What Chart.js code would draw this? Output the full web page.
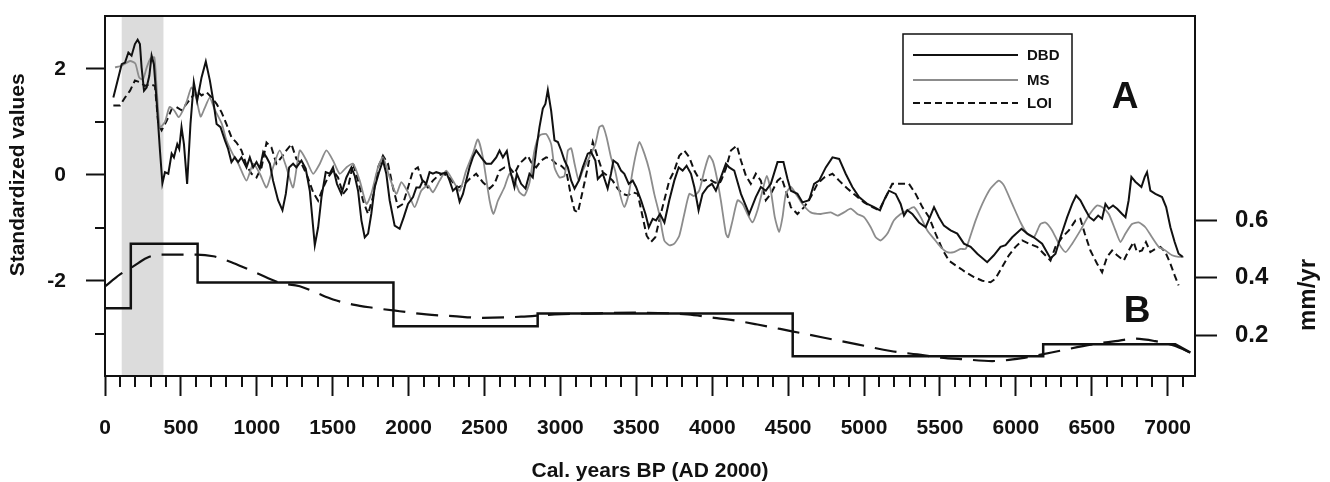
<!DOCTYPE html>
<html><head><meta charset="utf-8">
<script src="https://cdn.jsdelivr.net/npm/chart.js@4.4.1/dist/chart.umd.min.js"></script>
<style>html,body{margin:0;padding:0;background:#fff;}#wrap{width:1330px;height:482px;}</style>
</head><body><div id="wrap"><canvas id="c" width="1330" height="482"></canvas></div>
<script>
// ---------- data ----------
const dbdYears = [55,110,132,154,175,197,215,230,241,257,274,292,307,322,340,362,378,395,417,439,454,476,489,504,520,541,563,585,607,636,664,691,713,735,761,790,811,833,855,877,899,932,954,976,998,1020,1042,1064,1086,1107,1140,1169,1191,1213,1239,1261,1294,1322,1349,1382,1404,1426,1454,1480,1502,1528,1557,1590,1623,1645,1667,1689,1711,1733,1754,1776,1805,1831,1853,1875,1908,1941,1968,1996,2029,2051,2073,2094,2116,2138,2160,2182,2215,2248,2270,2292,2314,2336,2358,2379,2401,2423,2445,2478,2511,2544,2577,2599,2621,2647,2669,2697,2713,2741,2770,2796,2818,2840,2862,2884,2901,2917,2939,2961,2983,3005,3027,3049,3071,3093,3121,3147,3180,3202,3230,3246,3279,3311,3333,3349,3377,3399,3421,3450,3476,3498,3531,3560,3582,3608,3630,3656,3685,3717,3750,3779,3805,3831,3860,3882,3910,3936,3969,3998,4024,4057,4090,4112,4145,4189,4243,4287,4320,4353,4386,4430,4469,4496,4518,4561,4594,4638,4671,4704,4748,4792,4836,4879,4923,4967,5022,5066,5105,5132,5164,5208,5241,5263,5285,5318,5362,5406,5434,5461,5493,5526,5570,5614,5658,5702,5746,5811,5855,5899,5932,5976,6037,6075,6118,6173,6228,6261,6294,6338,6371,6397,6425,6454,6485,6513,6542,6568,6590,6612,6640,6667,6700,6722,6743,6761,6787,6827,6849,6864,6886,6919,6963,6990,7018,7046,7072,7099];
const dbdValues = [1.46,2.09,2.12,2.31,2.25,2.47,2.55,2.47,2.03,1.59,1.65,1.87,2.25,2.09,1.40,0.46,-0.16,0.05,0.02,0.40,0.33,0.58,0.49,0.90,0.58,-0.17,0.96,1.75,1.40,1.84,2.14,1.78,1.40,0.96,0.90,0.65,0.49,0.24,0.33,0.24,0.33,0.14,0.33,0.14,0.24,0.12,0.43,0.33,0.21,-0.11,-0.48,-0.67,-0.36,0.14,0.21,0.14,0.27,0.12,-0.30,-1.33,-0.99,-0.42,0.05,0.02,0.14,-0.17,-0.36,-0.05,0.14,-0.02,-0.30,-0.86,-1.18,-1.11,-0.74,-0.24,0.05,0.27,0.02,-0.48,-0.96,-1.02,-0.80,-0.55,-0.42,-0.24,-0.24,-0.11,-0.17,0.05,0.02,0.05,0.02,0.04,-0.11,-0.30,-0.24,-0.51,-0.36,-0.11,0.14,0.33,0.46,0.33,0.21,0.21,0.33,0.46,0.33,0.45,0.08,-0.23,0.02,-0.17,-0.26,0.02,-0.05,0.46,0.90,1.25,1.34,1.60,1.21,0.65,0.62,0.46,0.27,0.14,-0.11,-0.26,-0.11,0.14,0.40,0.43,0.27,-0.08,0.02,-0.26,0.02,0.27,0.21,0.08,0.02,-0.17,-0.11,-0.23,-0.48,-0.74,-0.99,-0.83,-0.86,-0.74,-0.90,-0.48,-0.11,0.14,0.08,0.17,0.02,-0.23,-0.67,-0.36,-0.23,-0.17,-0.30,-0.05,0.21,0.14,0.08,-0.36,-0.74,-0.42,-0.23,-0.30,-0.17,0.24,0.24,-0.08,-0.30,-0.36,-0.52,-0.48,-0.17,-0.11,0.14,0.33,0.30,0.02,-0.23,-0.42,-0.55,-0.61,-0.67,-0.48,-0.30,-0.36,-0.55,-0.77,-0.67,-0.74,-0.90,-0.99,-0.80,-0.61,-0.80,-0.96,-1.05,-1.11,-1.30,-1.36,-1.49,-1.65,-1.52,-1.36,-1.33,-1.18,-1.02,-1.11,-1.18,-1.30,-1.58,-1.49,-1.18,-0.80,-0.55,-0.39,-0.48,-0.64,-0.80,-0.86,-0.77,-0.83,-0.55,-0.64,-0.58,-0.64,-0.74,-0.80,-0.48,-0.04,-0.13,-0.23,-0.04,0.05,-0.30,-0.36,-0.42,-0.61,-0.99,-1.27,-1.49,-1.55];

const msYears = [66,110,165,200,225,250,275,300,325,340,362,395,425,455,485,510,540,570,600,630,655,690,720,770,800,840,880,932,976,1020,1064,1107,1151,1195,1239,1283,1327,1371,1415,1458,1502,1546,1590,1634,1678,1722,1754,1798,1831,1875,1919,1952,1996,2040,2083,2127,2160,2204,2248,2292,2336,2379,2423,2456,2489,2533,2559,2588,2632,2665,2697,2730,2763,2796,2829,2862,2906,2939,2961,2994,3027,3049,3071,3093,3121,3147,3190,3230,3256,3278,3304,3333,3360,3392,3421,3450,3476,3498,3520,3553,3586,3618,3651,3684,3717,3750,3783,3816,3849,3880,3914,3950,3980,4005,4030,4057,4090,4105,4134,4167,4200,4232,4265,4298,4331,4359,4386,4412,4441,4463,4485,4518,4551,4594,4649,4715,4781,4825,4868,4912,4956,5000,5044,5077,5110,5154,5197,5241,5285,5329,5373,5417,5461,5504,5548,5592,5636,5669,5691,5735,5779,5833,5888,5921,5976,6031,6075,6118,6162,6195,6239,6283,6327,6371,6425,6480,6535,6568,6612,6656,6689,6722,6765,6809,6853,6897,6941,6985,7029,7072,7105];
const msValues = [2.03,2.06,2.15,2.10,1.84,1.80,2.03,2.20,2.22,1.65,0.90,1.00,1.28,1.22,1.09,1.20,1.40,1.65,1.45,1.10,1.25,1.46,1.25,0.96,0.65,0.40,0.20,-0.11,0.21,0.02,-0.24,0.14,0.46,0.14,-0.24,0.46,0.27,0.02,0.21,0.46,0.27,0.02,0.14,0.21,-0.11,-0.55,-0.36,0.14,0.33,-0.05,-0.36,-0.14,-0.33,-0.61,-0.30,-0.20,-0.33,-0.11,0.08,-0.11,-0.30,0.08,0.40,0.67,0.33,-0.48,-0.74,-0.49,-0.23,0.02,-0.10,-0.33,-0.39,-0.15,0.46,0.74,0.77,0.58,0.14,-0.05,-0.02,0.46,0.50,0.21,-0.11,0.08,0.33,0.58,0.90,0.93,0.71,0.33,0.08,-0.36,-0.61,-0.36,0.08,0.40,0.62,0.40,0.08,-0.36,-0.74,-1.24,-1.33,-1.30,-1.15,-0.74,-0.36,-0.40,-0.30,0.10,0.36,0.25,-0.05,-0.49,-1.11,-1.18,-0.86,-0.48,-0.55,-0.74,-0.90,-0.67,-0.30,-0.02,-0.30,-0.80,-1.08,-0.80,-0.36,-0.23,-0.36,-0.55,-0.71,-0.74,-0.71,-0.77,-0.71,-0.64,-0.74,-0.80,-0.99,-1.18,-1.24,-1.11,-0.86,-0.74,-0.67,-0.61,-0.80,-1.05,-1.21,-1.36,-1.46,-1.46,-1.40,-1.40,-1.24,-0.86,-0.55,-0.26,-0.11,-0.20,-0.55,-0.90,-1.11,-1.18,-0.93,-0.90,-1.05,-1.30,-1.46,-1.30,-1.05,-0.77,-0.58,-0.61,-0.74,-1.05,-1.27,-1.11,-0.93,-0.90,-0.99,-1.18,-1.36,-1.43,-1.52,-1.55,-1.55];

const loiYears = [55,99,132,165,197,230,263,296,329,351,373,406,439,471,504,537,570,603,636,669,702,735,768,800,833,866,899,932,965,998,1031,1064,1096,1129,1162,1195,1228,1261,1294,1327,1371,1404,1437,1469,1502,1535,1568,1601,1634,1667,1700,1733,1765,1798,1831,1864,1897,1930,1963,1996,2029,2061,2094,2127,2160,2193,2226,2259,2292,2325,2358,2401,2445,2489,2533,2566,2599,2632,2665,2697,2730,2763,2785,2807,2840,2873,2906,2939,2971,3005,3038,3071,3093,3115,3147,3180,3213,3246,3279,3311,3344,3377,3410,3443,3476,3509,3542,3568,3596,3625,3651,3684,3717,3750,3783,3816,3849,3882,3914,3947,3980,4013,4046,4060,4090,4123,4162,4189,4222,4254,4287,4320,4353,4386,4430,4456,4485,4518,4561,4605,4649,4693,4737,4792,4836,4890,4945,5000,5055,5099,5143,5186,5241,5296,5340,5384,5428,5471,5515,5559,5603,5640,5669,5724,5779,5833,5866,5910,5954,5998,6042,6086,6140,6184,6228,6261,6305,6349,6393,6425,6454,6491,6535,6568,6601,6634,6667,6711,6743,6776,6798,6831,6857,6886,6919,6952,6985,7018,7046,7072];
const loiValues = [1.31,1.31,1.46,1.59,1.78,1.75,1.68,1.71,1.68,0.96,0.84,1.02,1.24,1.28,1.22,1.34,1.46,1.59,1.50,1.56,1.46,1.34,1.18,0.96,0.71,0.61,0.46,0.18,0.02,-0.05,0.14,0.61,0.52,0.21,0.33,0.46,0.58,0.30,0.21,0.02,-0.33,-0.49,-0.24,-0.05,0.08,-0.05,-0.36,-0.24,0.21,-0.11,-0.49,-0.74,-0.42,0.14,0.36,0.21,-0.24,-0.61,-0.55,-0.24,0.08,0.14,-0.14,-0.24,-0.11,-0.02,0.02,-0.02,-0.14,-0.24,-0.20,-0.08,0.02,-0.14,-0.26,-0.17,0.08,0.14,0.14,0.02,0.21,0.30,0.36,0.24,0.14,0.27,0.33,0.30,0.21,0.17,0.08,-0.42,-0.67,-0.71,-0.30,0.14,0.62,0.33,0.05,-0.02,-0.11,-0.26,-0.36,-0.39,-0.33,-0.36,-0.80,-1.15,-1.27,-1.18,-0.86,-0.48,-0.11,0.08,0.36,0.46,0.33,0.08,-0.08,-0.11,-0.08,-0.14,-0.17,-0.10,0.12,0.46,0.55,0.27,-0.02,-0.17,0.02,-0.11,-0.48,-0.36,-0.11,-0.05,-0.30,-0.61,-0.74,-0.61,-0.42,-0.17,-0.05,0.02,-0.11,-0.26,-0.39,-0.52,-0.61,-0.67,-0.42,-0.17,-0.17,-0.17,-0.36,-0.61,-0.80,-1.11,-1.40,-1.62,-1.71,-1.78,-1.84,-1.93,-2.00,-2.03,-1.96,-1.74,-1.52,-1.36,-1.24,-1.30,-1.36,-1.49,-1.62,-1.36,-1.18,-1.05,-0.86,-0.83,-1.11,-1.43,-1.68,-1.84,-1.55,-1.43,-1.52,-1.62,-1.43,-1.27,-1.46,-1.43,-1.27,-1.46,-1.40,-1.36,-1.46,-1.68,-1.90,-2.09];

// B: accumulation rate (mm/yr), step change points and smoothed curve
const stepYears = [0,170,610,1900,2850,4530,6180,7050,7150];
const stepRates = [0.294,0.519,0.384,0.232,0.276,0.128,0.169,0.169,0.140];
const trendYears = [0,99,186,274,362,471,603,713,844,998,1151,1283,1393,1502,1634,1765,1941,2116,2292,2489,2741,2961,3180,3509,3838,4013,4112,4298,4518,4737,4956,5175,5351,5504,5658,5844,6063,6173,6283,6502,6656,6787,6919,7050,7149];
const trendRates = [0.370,0.412,0.440,0.469,0.481,0.481,0.481,0.475,0.452,0.417,0.383,0.371,0.348,0.325,0.307,0.296,0.284,0.273,0.267,0.261,0.265,0.273,0.276,0.279,0.273,0.261,0.255,0.238,0.215,0.192,0.169,0.146,0.134,0.123,0.117,0.111,0.123,0.134,0.146,0.169,0.180,0.189,0.180,0.163,0.140];

// axes / annotations
const xMajorTicks = [0,500,1000,1500,2000,2500,3000,3500,4000,4500,5000,5500,6000,6500,7000];
const xMinorTicks = [100,200,300,400,600,700,800,900,1100,1200,1300,1400,1600,1700,1800,1900,2100,2200,2300,2400,2600,2700,2800,2900,3100,3200,3300,3400,3600,3700,3800,3900,4100,4200,4300,4400,4600,4700,4800,4900,5100,5200,5300,5400,5600,5700,5800,5900,6100,6200,6300,6400,6600,6700,6800,6900,7100];
const yMajorTicks = [-2,0,2];
const yMinorTicks = [-3,-1,1];
const rateTicks = [0.2,0.4,0.6];
const shadeYears = [110,385];
const seriesLabels = ['DBD','MS','LOI'];
const xTitle = 'Cal. years BP (AD 2000)';
const yTitle = 'Standardized values';
const rateTitle = 'mm/yr';

// ---------- chart ----------
const FONT = "'Liberation Sans', Arial, sans-serif";
const INK = '#111';
const GREY = '#8c8c8c';
const pts = (xs, ys) => xs.map((x, i) => ({x: x, y: ys[i]}));
const stepPts = [];
for (let i = 0; i < stepYears.length - 1; i++) {
  stepPts.push({x: stepYears[i], y: stepRates[i]});
  if (i < stepYears.length - 2) stepPts.push({x: stepYears[i + 1], y: stepRates[i]});
}
stepPts.push({x: stepYears[stepYears.length - 1], y: stepRates[stepRates.length - 1]});
const noPad = s => { s.paddingTop = 0; s.paddingBottom = 0; s.paddingLeft = 0; s.paddingRight = 0; };

const decor = {
  id: 'decor',
  beforeDraw(chart) {
    const {ctx, chartArea: a, scales: {x}} = chart;
    ctx.save();
    ctx.fillStyle = '#dcdcdc';
    const x0 = x.getPixelForValue(shadeYears[0]), x1 = x.getPixelForValue(shadeYears[1]);
    ctx.fillRect(x0, a.top + 1, x1 - x0, a.bottom - a.top - 2);
    ctx.restore();
  },
  afterDraw(chart) {
    const {ctx, chartArea: a, scales: {x, y, y2}} = chart;
    ctx.save();
    ctx.strokeStyle = INK; ctx.lineWidth = 2;
    ctx.beginPath();
    xMinorTicks.forEach(v => { const px = Math.round(x.getPixelForValue(v)); ctx.moveTo(px, a.bottom); ctx.lineTo(px, a.bottom + 11); });
    yMinorTicks.forEach(v => { const py = Math.round(y.getPixelForValue(v)); ctx.moveTo(a.left - 10, py); ctx.lineTo(a.left, py); });
    ctx.stroke();
    ctx.fillStyle = INK;
    ctx.textAlign = 'center'; ctx.textBaseline = 'middle';
    ctx.font = 'bold 21px ' + FONT;
    ctx.save(); ctx.translate(18, y.getPixelForValue(0)); ctx.rotate(-Math.PI / 2); ctx.fillText(yTitle, 0, 0); ctx.restore();
    ctx.font = 'bold 24px ' + FONT;
    ctx.save(); ctx.translate(1308, 295); ctx.rotate(-Math.PI / 2); ctx.fillText(rateTitle, 0, 0); ctx.restore();
    ctx.font = 'bold 37px ' + FONT;
    ctx.fillText('A', x.getPixelForValue(6720), y.getPixelForValue(1.45));
    ctx.fillText('B', x.getPixelForValue(6798), y2.getPixelForValue(0.282));
    const bx = 903, by = 34, bw = 169, bh = 90;
    ctx.fillStyle = '#fff'; ctx.fillRect(bx, by, bw, bh);
    ctx.strokeStyle = INK; ctx.lineWidth = 1.5; ctx.strokeRect(bx, by, bw, bh);
    const ds = chart.data.datasets;
    const rows = [55, 80, 103];
    ctx.font = 'bold 15px ' + FONT; ctx.textAlign = 'left';
    for (let i = 0; i < 3; i++) {
      ctx.beginPath();
      ctx.strokeStyle = ds[i].borderColor; ctx.lineWidth = ds[i].borderWidth;
      ctx.setLineDash(ds[i].borderDash || []);
      ctx.moveTo(913, rows[i]); ctx.lineTo(1018, rows[i]); ctx.stroke();
      ctx.setLineDash([]);
      ctx.fillStyle = INK;
      ctx.fillText(ds[i].label, 1027, rows[i] + 1);
    }
    ctx.restore();
  }
};

const common = {pointRadius: 0, pointHoverRadius: 0, fill: false};
new Chart(document.getElementById('c'), {
  type: 'line',
  data: {datasets: [
    Object.assign({label: seriesLabels[0], data: pts(dbdYears, dbdValues), borderColor: INK, borderWidth: 2, yAxisID: 'y', tension: 0}, common),
    Object.assign({label: seriesLabels[1], data: pts(msYears, msValues), borderColor: GREY, borderWidth: 1.8, yAxisID: 'y', tension: 0.2}, common),
    Object.assign({label: seriesLabels[2], data: pts(loiYears, loiValues), borderColor: INK, borderWidth: 2, borderDash: [7, 4], yAxisID: 'y', tension: 0}, common),
    Object.assign({label: 'rate', data: stepPts, borderColor: INK, borderWidth: 2.5, yAxisID: 'y2', tension: 0}, common),
    Object.assign({label: 'rate trend', data: pts(trendYears, trendRates), borderColor: INK, borderWidth: 2.2, borderDash: [22, 11], yAxisID: 'y2', cubicInterpolationMode: 'monotone'}, common)
  ]},
  options: {
    responsive: false, animation: false, devicePixelRatio: 1,
    layout: {padding: 0},
    plugins: {legend: {display: false}, tooltip: {enabled: false}},
    scales: {
      x: {
        type: 'linear', position: 'bottom', min: 0, max: 7180,
        afterBuildTicks: s => { s.ticks = xMajorTicks.map(v => ({value: v})); },
        afterFit: s => { s.height = 106; noPad(s); },
        ticks: {autoSkip: false, maxRotation: 0, padding: 20, color: INK, font: {family: FONT, size: 21, weight: 'bold'}, callback: v => String(v)},
        grid: {drawOnChartArea: false, drawTicks: true, tickLength: 20, tickWidth: 2, tickColor: INK},
        border: {display: true, color: INK, width: 2},
        title: {display: true, text: xTitle, color: INK, font: {family: FONT, size: 21, weight: 'bold', lineHeight: 1.0}, padding: {top: 0, bottom: 0}}
      },
      xTop: {
        type: 'linear', position: 'top', min: 0, max: 7180,
        afterFit: s => { s.height = 16; noPad(s); },
        ticks: {display: false},
        grid: {display: false, drawTicks: false},
        border: {display: true, color: INK, width: 2}
      },
      y: {
        type: 'linear', position: 'left', min: -3.8, max: 3.0,
        afterBuildTicks: s => { s.ticks = yMajorTicks.map(v => ({value: v})); },
        afterFit: s => { s.width = 105; noPad(s); },
        ticks: {padding: 20, color: INK, font: {family: FONT, size: 21, weight: 'bold'}, callback: v => String(v)},
        grid: {drawOnChartArea: false, drawTicks: true, tickLength: 19, tickWidth: 2, tickColor: INK},
        border: {display: true, color: INK, width: 2}
      },
      y2: {
        type: 'linear', position: 'right', min: 0.059, max: 1.31,
        afterBuildTicks: s => { s.ticks = rateTicks.map(v => ({value: v})); },
        afterFit: s => { s.width = 135; noPad(s); },
        ticks: {padding: 18, color: INK, font: {family: FONT, size: 24, weight: 'bold'}, callback: v => v.toFixed(1)},
        grid: {drawOnChartArea: false, drawTicks: true, tickLength: 22, tickWidth: 2, tickColor: INK},
        border: {display: true, color: INK, width: 2}
      }
    }
  },
  plugins: [decor]
});
</script></body></html>
